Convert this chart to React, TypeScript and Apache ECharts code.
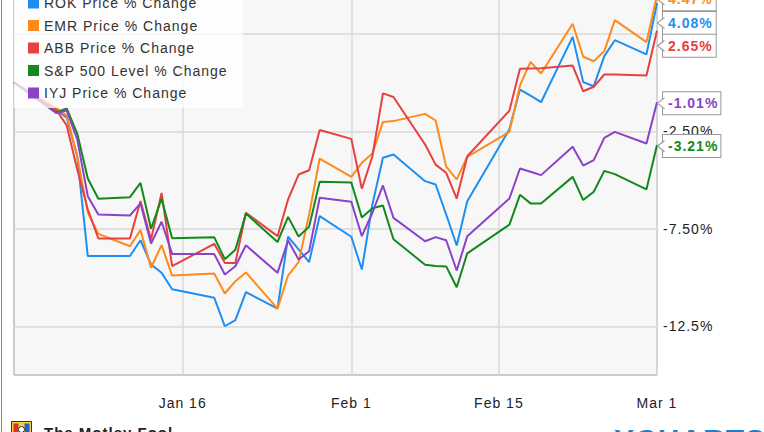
import React, { useEffect, useRef } from 'react';
import * as echarts from 'echarts';

const dates = [
  '2015-12-31', '2016-01-04', '2016-01-05', '2016-01-06', '2016-01-07', '2016-01-08',
  '2016-01-11', '2016-01-12', '2016-01-13', '2016-01-14', '2016-01-15',
  '2016-01-19', '2016-01-20', '2016-01-21', '2016-01-22',
  '2016-01-25', '2016-01-26', '2016-01-27', '2016-01-28', '2016-01-29',
  '2016-02-01', '2016-02-02', '2016-02-03', '2016-02-04', '2016-02-05',
  '2016-02-08', '2016-02-09', '2016-02-10', '2016-02-11', '2016-02-12',
  '2016-02-16', '2016-02-17', '2016-02-18', '2016-02-19',
  '2016-02-22', '2016-02-23', '2016-02-24', '2016-02-25', '2016-02-26',
  '2016-02-29', '2016-03-01',
];

const rok = [
  0, -1.4, -1.8, -3.8, -8.9, -8.9,
  -8.9, -8.09, -9.33, -9.76, -10.6,
  -11.04, -12.5, -12.19, -10.75,
  -11.6, -7.91, -8.56, -9.21, -6.85,
  -7.91, -9.59, -6.26, -3.86, -3.69,
  -5.06, -5.23, -6.77, -8.36, -6.09,
  -2.4, -0.36, -0.67, -1.01,
  2.34, 0.02, -0.19, 1.35, 2.17,
  1.44, 4.08,
];

const emr = [
  0, -1.3, -1.7, -3.78, -6.67, -7.76,
  -8.4, -7.57, -9.5, -8.34, -9.9,
  -9.8, -10.82, -10.19, -9.74,
  -11.6, -9.9, -9.21, -6.77, -3.9,
  -4.84, -4.12, -3.64, -2.03, -1.98,
  -1.61, -1.95, -4.31, -4.97, -3.81,
  -2.53, -0.15, 1.06, 0.46,
  3.01, 1.32, 1.09, 1.61, 3.2,
  2.07, 4.47,
];

const abb = [
  0, -1.4, -2.2, -4.46, -6.5, -8.0,
  -8.0, -6.08, -8.05, -5.66, -9.42,
  -8.27, -9.25, -9.25, -6.68,
  -7.88, -6.0, -4.72, -4.5, -2.44,
  -2.89, -5.45, -3.78, -0.56, -0.74,
  -3.18, -4.21, -4.63, -5.95, -3.78,
  -1.44, 0.7, 0.72, 0.73,
  0.87, -0.45, -0.22, 0.41, 0.41,
  0.36, 2.65,
];

const spx = [
  0, -1.53, -1.33, -2.62, -4.92, -5.96,
  -5.88, -5.15, -7.5, -5.96, -7.99,
  -7.94, -9.06, -8.58, -6.72,
  -8.18, -6.89, -7.9, -7.39, -5.09,
  -5.13, -6.92, -6.45, -6.31, -8.04,
  -9.35, -9.41, -9.43, -10.5, -8.76,
  -7.29, -5.76, -6.2, -6.2,
  -4.84, -6.03, -5.6, -4.53, -4.7,
  -5.48, -3.21,
];

const iyj = [
  0, -1.56, -1.44, -2.92, -5.83, -6.77,
  -6.82, -6.2, -8.26, -7.14, -8.79,
  -8.8, -9.85, -9.42, -8.35,
  -9.76, -8.1, -9.08, -8.65, -5.91,
  -6.12, -7.88, -6.68, -5.28, -6.94,
  -8.14, -7.93, -8.09, -9.64, -7.88,
  -5.95, -4.41, -4.58, -4.75,
  -3.3, -4.26, -3.98, -2.84, -2.53,
  -3.13, -1.01,
];

const seriesNames = [
  'ROK Price % Change',
  'EMR Price % Change',
  'ABB Price % Change',
  'S&P 500 Level % Change',
  'IYJ Price % Change',
];
const seriesValues = [rok, emr, abb, spx, iyj];
const seriesColors = ['#1e8ff0', '#ff8a1c', '#e8403e', '#12891a', '#8a42c8'];
// vertical nudge (px) of each end label so the boxes do not overlap
const endLabelShift = [20, 4, 15, 1, 1];

const xTickDates = ['2016-01-16', '2016-02-01', '2016-02-15', '2016-03-01'];
const yGridValues = [-12.5, -7.5, -2.5, 2.5];
// the 2.50% label is covered by the end-label boxes in the original
const yLabelValues = [-12.5, -7.5, -2.5];
const xStart = '2015-12-31';
const xEnd = '2016-03-01';
const yMin = -15;
const yMax = 5;

const monthNames = ['Jan', 'Feb', 'Mar', 'Apr', 'May', 'Jun', 'Jul', 'Aug', 'Sep', 'Oct', 'Nov', 'Dec'];
const DAY = 86400000;

function utc(s: string): number {
  const [y, m, d] = s.split('-').map(Number);
  return Date.UTC(y, m - 1, d);
}
// day number counted from the first date of the chart
function dayNum(s: string): number {
  return Math.round((utc(s) - utc(xStart)) / DAY);
}
function dayLabel(n: number): string {
  const d = new Date(utc(xStart) + Math.round(n) * DAY);
  return monthNames[d.getUTCMonth()] + ' ' + d.getUTCDate();
}

const FONT = '"Liberation Sans", Arial, sans-serif';
// the chart canvas starts above the visible window (the top of the chart is cropped)
const SHIFT = 40;

export default function App() {
  const ref = useRef<HTMLDivElement>(null);

  useEffect(() => {
    if (!ref.current) return;
    const chart = echarts.init(ref.current, undefined, { renderer: 'svg' });

    const series = seriesNames.map((name, i) => {
      const vals = seriesValues[i];
      const data = dates.map((d, k) => [dayNum(d), vals[k]]);
      const last = data[data.length - 1];
      return {
        name,
        type: 'line',
        data,
        showSymbol: false,
        symbol: 'none',
        color: seriesColors[i],
        lineStyle: { width: 2, color: seriesColors[i] },
        emphasis: { disabled: true },
        endLabel: {
          show: true,
          formatter: (p: any) => p.value[1].toFixed(2) + '%',
          color: seriesColors[i],
          fontFamily: FONT,
          fontWeight: 'bold',
          fontSize: 14,
          backgroundColor: '#ffffff',
          borderColor: '#999999',
          borderWidth: 1,
          padding: [4, 8, 4, 5],
          distance: 6,
          offset: [0, endLabelShift[i]],
        },
        markPoint: {
          silent: true,
          symbol: 'path://M7,0L0,5L7,10',
          symbolSize: [7, 11],
          symbolOffset: [4, endLabelShift[i]],
          itemStyle: { color: '#ffffff', borderColor: '#999999', borderWidth: 1 },
          label: { show: false },
          data: [{ coord: last }],
        },
      };
    });

    const option: any = {
      animation: false,
      textStyle: { fontFamily: FONT },
      grid: {
        left: 14,
        right: 107,
        top: SHIFT - 15,
        bottom: 57,
        show: true,
        backgroundColor: '#f7f7f7',
        borderColor: '#9c9c9c',
        borderWidth: 1,
      },
      legend: {
        orient: 'vertical',
        left: 14,
        top: SHIFT - 14,
        padding: [10, 37, 8, 14],
        itemWidth: 11,
        itemHeight: 11,
        itemGap: 8.5,
        icon: 'rect',
        selectedMode: false,
        backgroundColor: 'rgba(255,255,255,0.75)',
        textStyle: { color: '#333333', fontSize: 14, lineHeight: 14, fontFamily: FONT },
        data: seriesNames.map((n, i) => ({ name: n, itemStyle: { color: seriesColors[i] } })),
      },
      xAxis: {
        type: 'value',
        min: dayNum(xStart),
        max: dayNum(xEnd),
        axisLine: { show: false },
        axisTick: { show: false, customValues: xTickDates.map(dayNum) },
        axisLabel: {
          customValues: xTickDates.map(dayNum),
          formatter: (v: number) => dayLabel(v),
          color: '#222222',
          fontSize: 14,
          margin: 21,
          fontFamily: FONT,
        },
        splitLine: { show: true, lineStyle: { color: '#d8d8d8', width: 1.5 } },
      },
      yAxis: {
        type: 'value',
        position: 'right',
        min: yMin,
        max: yMax,
        axisLine: { show: false },
        axisTick: { show: false, customValues: yGridValues },
        axisLabel: {
          customValues: yLabelValues,
          formatter: (v: number) => v.toPrecision(3) + '%',
          color: '#222222',
          fontSize: 14,
          margin: 6,
          fontFamily: FONT,
        },
        splitLine: { show: true, lineStyle: { color: '#d8d8d8', width: 1.5 } },
      },
      series,
      graphic: [
        {
          type: 'line',
          silent: true,
          shape: { x1: 1.5, y1: 0, x2: 1.5, y2: SHIFT + 432 },
          style: { stroke: '#888888', lineWidth: 1 },
        },
        {
          type: 'group',
          left: 11,
          top: SHIFT + 421,
          silent: true,
          children: [
            { type: 'rect', shape: { x: 0, y: 0, width: 20, height: 14 }, style: { fill: '#f2d23a', stroke: '#333', lineWidth: 1 } },
            { type: 'rect', shape: { x: 2, y: 2, width: 5, height: 10 }, style: { fill: '#d8322a' } },
            { type: 'rect', shape: { x: 13, y: 2, width: 5, height: 10 }, style: { fill: '#2a5fc8' } },
            { type: 'circle', shape: { cx: 10, cy: 8, r: 3 }, style: { fill: '#ffffff', stroke: '#333', lineWidth: 1 } },
          ],
        },
        {
          type: 'text',
          left: 44,
          top: SHIFT + 425,
          silent: true,
          style: { text: 'The Motley Fool', font: 'bold 15px ' + FONT, fill: '#222222' },
        },
        {
          type: 'text',
          left: 614,
          top: SHIFT + 424,
          silent: true,
          style: { text: 'YCHARTS', font: 'bold 30px ' + FONT, fill: '#1b7fd6' },
        },
      ],
    };

    chart.setOption(option);
    return () => chart.dispose();
  }, []);

  return (
    <div
      ref={ref}
      style={{
        position: 'fixed',
        left: 0,
        top: -SHIFT,
        width: 764,
        height: 432 + SHIFT,
        background: '#ffffff',
        letterSpacing: '1px',
      }}
    />
  );
}
